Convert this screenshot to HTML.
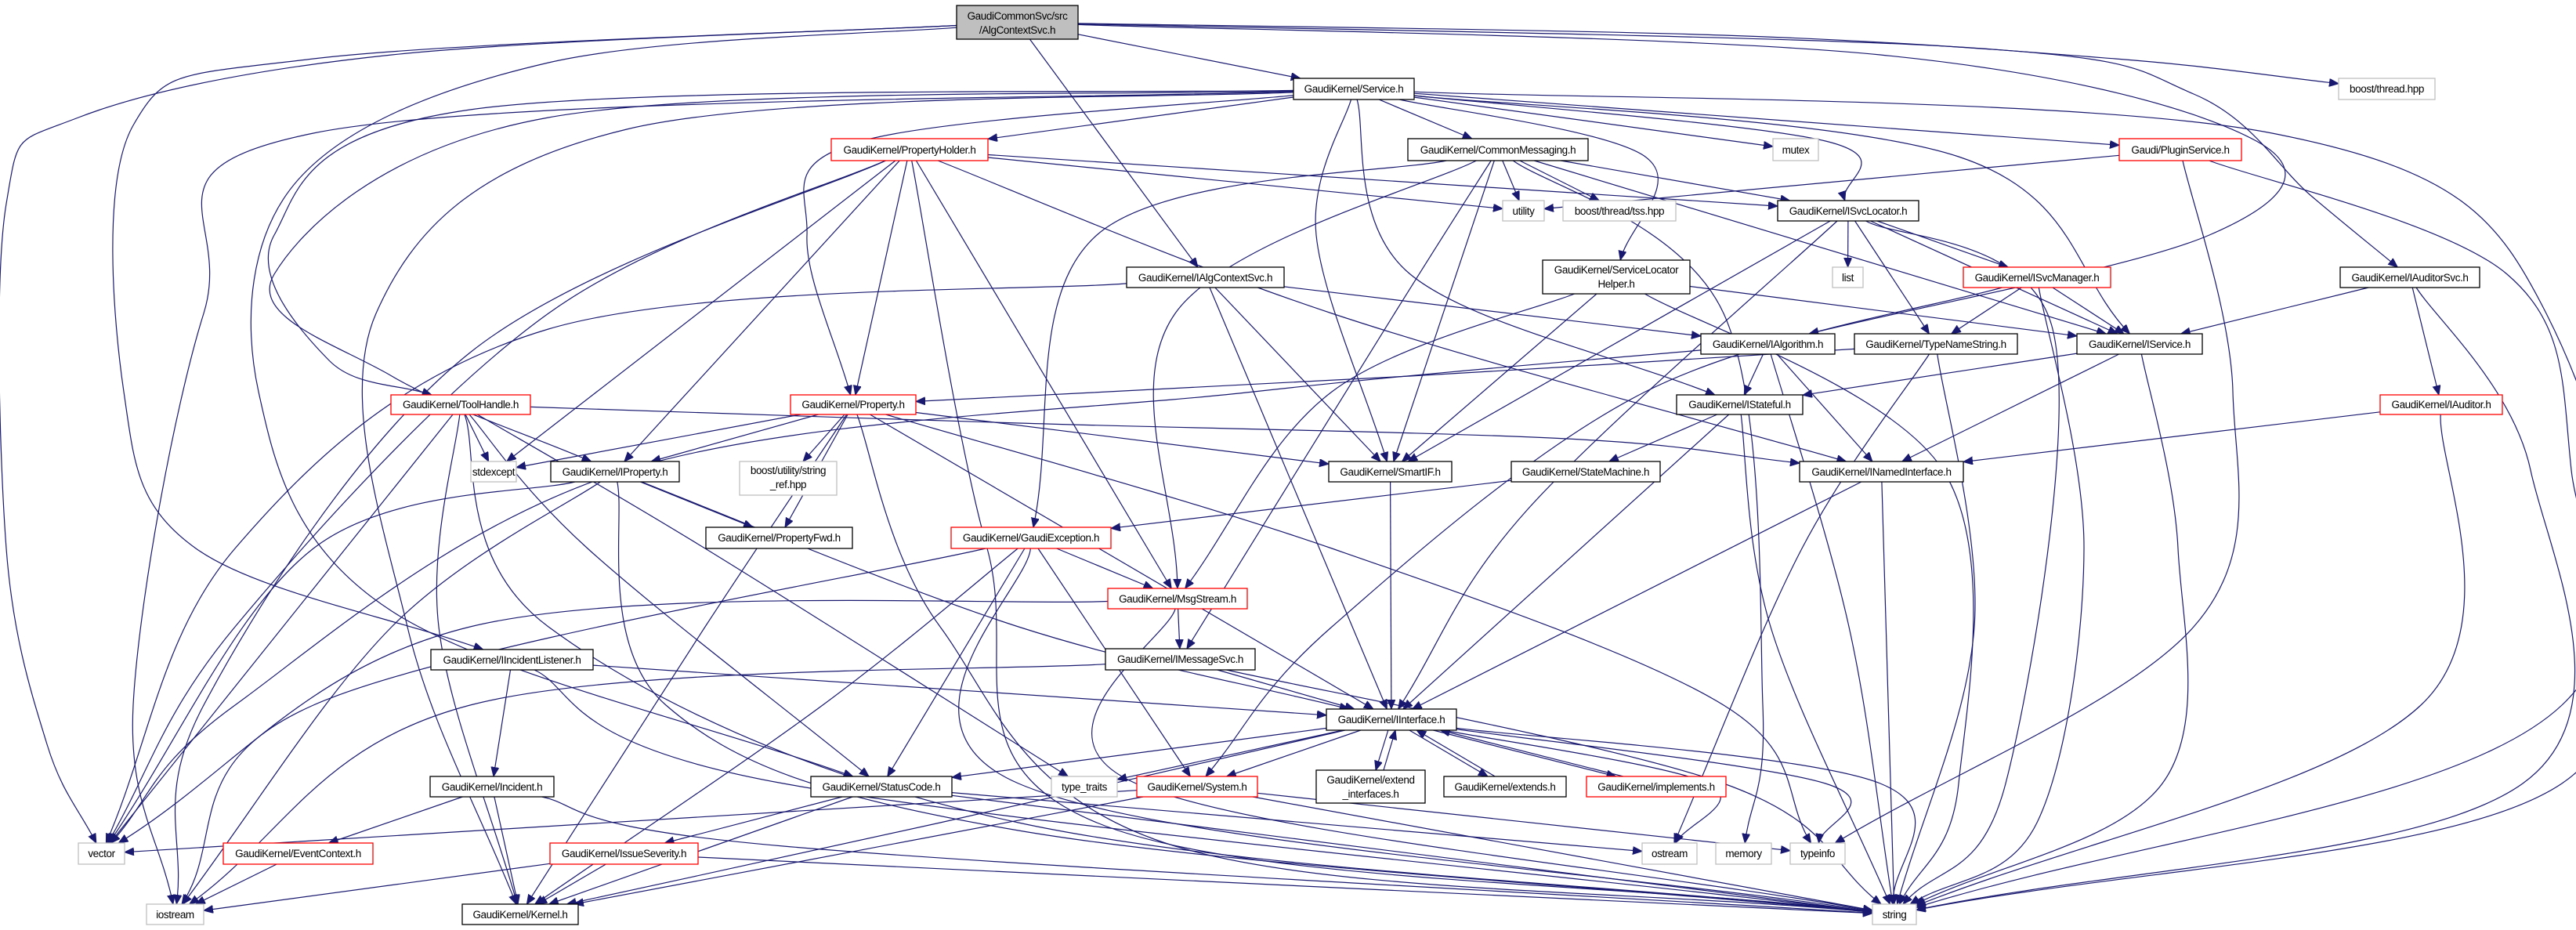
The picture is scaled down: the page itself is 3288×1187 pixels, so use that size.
<!DOCTYPE html>
<html><head><meta charset="utf-8">
<style>
html,body{margin:0;padding:0;background:#fff;}
svg{display:block;}
text{font-family:"Liberation Sans",Arial,sans-serif;font-size:13.5px;letter-spacing:-0.4px;fill:#000;text-anchor:middle;}
.n rect{fill:#fff;stroke:#000;stroke-width:1.3;}
.g rect{stroke:#bfbfbf;}
.r rect{stroke:#ff0000;}
#edges path{fill:none;stroke:#191970;stroke-width:1.2;}
</style></head>
<body>
<svg id="s" width="3288" height="1187" viewBox="0 0 3288 1187" xmlns="http://www.w3.org/2000/svg">
<defs><marker id="ah" markerUnits="userSpaceOnUse" markerWidth="14" markerHeight="12" refX="12" refY="5" orient="auto"><path d="M0,0 L12,5 L0,10 z" fill="#191970" stroke="#191970"/></marker></defs>
<g id="edges"></g>
<g id="nodes">
<g class="n" id="root"><rect x="1221" y="7" width="155" height="43" style="fill:#bfbfbf"/><text x="1298.5" y="25">GaudiCommonSvc/src</text><text x="1298.5" y="43">/AlgContextSvc.h</text></g>
<g class="n" id="svc"><rect x="1651" y="100" width="154" height="27"/><text x="1728" y="118">GaudiKernel/Service.h</text></g>
<g class="n r" id="ph"><rect x="1061" y="177" width="200" height="28"/><text x="1161" y="196">GaudiKernel/PropertyHolder.h</text></g>
<g class="n" id="cm"><rect x="1797" y="177" width="230" height="28"/><text x="1912" y="196">GaudiKernel/CommonMessaging.h</text></g>
<g class="n g" id="mutex"><rect x="2263" y="177" width="58" height="28"/><text x="2292" y="196">mutex</text></g>
<g class="n r" id="plug"><rect x="2705" y="177" width="156" height="28"/><text x="2783" y="196">Gaudi/PluginService.h</text></g>
<g class="n g" id="bth"><rect x="2985" y="100" width="123" height="27"/><text x="3046.5" y="118">boost/thread.hpp</text></g>
<g class="n g" id="util"><rect x="1918" y="256" width="53" height="26"/><text x="1944.5" y="274">utility</text></g>
<g class="n g" id="tss"><rect x="1995" y="256" width="144" height="26"/><text x="2067" y="274">boost/thread/tss.hpp</text></g>
<g class="n" id="isl"><rect x="2269" y="256" width="180" height="26"/><text x="2359" y="274">GaudiKernel/ISvcLocator.h</text></g>
<g class="n" id="iacs"><rect x="1438" y="341" width="201" height="26"/><text x="1538.5" y="359">GaudiKernel/IAlgContextSvc.h</text></g>
<g class="n" id="slh"><rect x="1969" y="332" width="188" height="43"/><text x="2063" y="349">GaudiKernel/ServiceLocator</text><text x="2063" y="367">Helper.h</text></g>
<g class="n g" id="list"><rect x="2339" y="341" width="39" height="26"/><text x="2358.5" y="359">list</text></g>
<g class="n r" id="ism"><rect x="2506" y="341" width="188" height="26"/><text x="2600" y="359">GaudiKernel/ISvcManager.h</text></g>
<g class="n" id="ias"><rect x="2987" y="341" width="178" height="26"/><text x="3076" y="359">GaudiKernel/IAuditorSvc.h</text></g>
<g class="n" id="ialg"><rect x="2171" y="426" width="171" height="26"/><text x="2256.5" y="444">GaudiKernel/IAlgorithm.h</text></g>
<g class="n" id="tns"><rect x="2367" y="426" width="208" height="26"/><text x="2471" y="444">GaudiKernel/TypeNameString.h</text></g>
<g class="n" id="isv"><rect x="2651" y="426" width="160" height="26"/><text x="2731" y="444">GaudiKernel/IService.h</text></g>
<g class="n r" id="th"><rect x="499" y="504" width="178" height="25"/><text x="588" y="521">GaudiKernel/ToolHandle.h</text></g>
<g class="n r" id="prop"><rect x="1009" y="504" width="160" height="25"/><text x="1089" y="521">GaudiKernel/Property.h</text></g>
<g class="n" id="ist"><rect x="2140" y="504" width="161" height="25"/><text x="2220.5" y="521">GaudiKernel/IStateful.h</text></g>
<g class="n r" id="iaud"><rect x="3038" y="504" width="156" height="25"/><text x="3116" y="521">GaudiKernel/IAuditor.h</text></g>
<g class="n g" id="stdx"><rect x="601" y="589" width="58" height="26"/><text x="630" y="607">stdexcept</text></g>
<g class="n" id="iprop"><rect x="703" y="589" width="164" height="26"/><text x="785" y="607">GaudiKernel/IProperty.h</text></g>
<g class="n g" id="bus"><rect x="944" y="589" width="124" height="43"/><text x="1006" y="605">boost/utility/string</text><text x="1006" y="623">_ref.hpp</text></g>
<g class="n" id="sif"><rect x="1696" y="589" width="157" height="26"/><text x="1774.5" y="607">GaudiKernel/SmartIF.h</text></g>
<g class="n" id="sm"><rect x="1929" y="589" width="190" height="26"/><text x="2024" y="607">GaudiKernel/StateMachine.h</text></g>
<g class="n" id="inam"><rect x="2297" y="589" width="209" height="26"/><text x="2401.5" y="607">GaudiKernel/INamedInterface.h</text></g>
<g class="n" id="pfwd"><rect x="901" y="673" width="187" height="27"/><text x="994.5" y="691">GaudiKernel/PropertyFwd.h</text></g>
<g class="n r" id="gex"><rect x="1214" y="673" width="204" height="27"/><text x="1316" y="691">GaudiKernel/GaudiException.h</text></g>
<g class="n r" id="msg"><rect x="1414" y="751" width="178" height="26"/><text x="1503" y="769">GaudiKernel/MsgStream.h</text></g>
<g class="n" id="il"><rect x="550" y="829" width="207" height="26"/><text x="653.5" y="847">GaudiKernel/IIncidentListener.h</text></g>
<g class="n" id="ims"><rect x="1411" y="828" width="191" height="27"/><text x="1506.5" y="846">GaudiKernel/IMessageSvc.h</text></g>
<g class="n" id="iint"><rect x="1693" y="905" width="166" height="27"/><text x="1776" y="923">GaudiKernel/IInterface.h</text></g>
<g class="n" id="inc"><rect x="549" y="991" width="158" height="26"/><text x="628" y="1009">GaudiKernel/Incident.h</text></g>
<g class="n" id="sc"><rect x="1035" y="991" width="180" height="26"/><text x="1125" y="1009">GaudiKernel/StatusCode.h</text></g>
<g class="n g" id="tt"><rect x="1342" y="991" width="84" height="26"/><text x="1384" y="1009">type_traits</text></g>
<g class="n r" id="sys"><rect x="1451" y="991" width="154" height="26"/><text x="1528" y="1009">GaudiKernel/System.h</text></g>
<g class="n" id="ext"><rect x="1680" y="983" width="139" height="42"/><text x="1749.5" y="1000">GaudiKernel/extend</text><text x="1749.5" y="1018">_interfaces.h</text></g>
<g class="n" id="exts"><rect x="1843" y="991" width="156" height="26"/><text x="1921" y="1009">GaudiKernel/extends.h</text></g>
<g class="n r" id="impl"><rect x="2025" y="991" width="178" height="26"/><text x="2114" y="1009">GaudiKernel/implements.h</text></g>
<g class="n g" id="vec"><rect x="100" y="1076" width="59" height="27"/><text x="129.5" y="1094">vector</text></g>
<g class="n r" id="ec"><rect x="285" y="1076" width="191" height="27"/><text x="380.5" y="1094">GaudiKernel/EventContext.h</text></g>
<g class="n r" id="isev"><rect x="702" y="1076" width="189" height="27"/><text x="796.5" y="1094">GaudiKernel/IssueSeverity.h</text></g>
<g class="n g" id="ostr"><rect x="2096" y="1076" width="70" height="27"/><text x="2131" y="1094">ostream</text></g>
<g class="n g" id="mem"><rect x="2190" y="1076" width="71" height="27"/><text x="2225.5" y="1094">memory</text></g>
<g class="n g" id="tinf"><rect x="2285" y="1076" width="70" height="27"/><text x="2320" y="1094">typeinfo</text></g>
<g class="n g" id="ios"><rect x="187" y="1154" width="73" height="26"/><text x="223.5" y="1172">iostream</text></g>
<g class="n" id="ker"><rect x="590" y="1154" width="148" height="26"/><text x="664" y="1172">GaudiKernel/Kernel.h</text></g>
<g class="n g" id="str"><rect x="2390" y="1154" width="56" height="26"/><text x="2418" y="1172">string</text></g>
</g>
</svg>
<script>
(function(){
function R(id){var r=document.querySelector('#'+id+' rect');var x=+r.getAttribute('x'),y=+r.getAttribute('y'),w=+r.getAttribute('width'),h=+r.getAttribute('height');return {x:x,y:y,w:w,h:h,cx:x+w/2,cy:y+h/2};}
function clip(r,px,py){var dx=px-r.cx,dy=py-r.cy;if(dx===0&&dy===0)return [r.cx,r.cy];var tx=dx?(r.w/2)/Math.abs(dx):1e9,ty=dy?(r.h/2)/Math.abs(dy):1e9;var t=Math.min(tx,ty);return [r.cx+dx*t,r.cy+dy*t];}
var E=[
['root','svc'],['root','iacs'],['root','bth',[[2200,45],[2700,75]]],['root','vec',[[500,70],[100,150],[8,260],[8,700],[60,950]]],
['root','il',[[400,75],[170,160],[158,500],[250,700]]],['root','sc',[[700,80],[380,230],[330,500],[500,780]]],
['root','ialg',[[2400,70],[2880,180],[2820,300]]],['root','ias',[[2500,60],[2800,120],[2950,250]]],
['svc','ph'],['svc','cm'],['svc','mutex'],['svc','plug'],['svc','isl',[[2330,180]]],['svc','isv',[[2500,200]]],['svc','sif',[[1680,300]]],
['svc','ist',[[1800,350]]],['svc','prop',[[1100,180],[1030,300]]],['svc','slh',[[2100,200]]],
['svc','th',[[600,140],[350,300],[420,460]]],['svc','iprop',[[700,150],[350,350],[500,480]]],
['svc','str',[[2900,170],[3250,400],[3270,900]]],['svc','ker',[[800,165],[480,400],[520,800]]],['svc','ios',[[400,170],[260,400],[170,900]]],
['ph','util'],['ph','isl'],['ph','prop'],['ph','iprop'],['ph','stdx'],['ph','msg'],['ph','inam',[[1700,400]]],
['ph','vec',[[700,400],[300,800]]],['ph','ios',[[600,450],[260,900]]],['ph','str',[[1260,700],[1400,1050]]],
['cm','util'],['cm','tss'],['cm','isl'],['cm','isv'],['cm','sif'],['cm','msg',[[1500,400]]],['cm','ims',[[1780,400]]],['cm','gex',[[1400,300]]],['cm','mem',[[2200,400],[2250,900]]],
['iacs','iint'],['iacs','sif'],['iacs','ialg'],['iacs','vec',[[700,420],[300,700]]],
['slh','sif'],['slh','isv'],['slh','str',[[2480,600],[2500,1000]]],['slh','msg',[[1700,500]]],
['isl','list'],['isl','ism'],['isl','tns'],['isl','isv'],['isl','sif'],['isl','iint',[[1950,650]]],['isl','str',[[2620,420],[2560,1000]]],
['ism','tns'],['ism','isv'],['ism','sys',[[2100,500],[1700,800]]],['ism','str',[[2660,700],[2600,1050]]],
['plug','util'],['plug','str',[[3200,350],[3282,600],[3270,1000]]],['plug','tinf',[[2850,500],[2800,800]]],
['ias','isv'],['ias','iaud'],['ias','str',[[3230,600],[3220,1000]]],
['ialg','ist'],['ialg','inam'],['ialg','str',[[2360,800]]],['ialg','vec',[[1600,500],[800,600],[300,900]]],
['tns','str',[[2520,800]]],['tns','ostr',[[2300,700]]],['tns','prop',[[1800,480]]],
['isv','ist'],['isv','inam'],['isv','str',[[2780,700],[2760,1000]]],
['iaud','inam'],['iaud','str',[[3090,900]]],
['ist','sm'],['ist','iint'],['ist','str',[[2260,800]]],
['th','stdx'],['th','inam',[[1300,540],[2000,560]]],['th','vec'],['th','str',[[700,800],[1300,1050]]],['th','tt',[[900,700]]],['th','sc',[[750,700]]],['th','ker',[[560,800]]],
['prop','iprop'],['prop','pfwd'],['prop','stdx'],['prop','bus'],['prop','sif'],['prop','iint'],['prop','str',[[1200,800],[1500,1080]]],['prop','tinf',[[1700,700],[2200,900]]],['prop','ker',[[900,800]]],
['iprop','pfwd'],['iprop','iint',[[1300,800]]],['iprop','vec',[[400,700]]],['iprop','ios',[[500,800]]],['iprop','str',[[850,900],[1300,1060]]],
['sm','gex'],['inam','iint'],['inam','str'],['sif','iint'],
['gex','msg'],['gex','sc'],['gex','sys'],['gex','ker',[[1050,900]]],['gex','str',[[1300,1000]]],['gex','ios',[[400,900]]],
['msg','ims'],['msg','vec',[[600,800]]],['msg','str',[[1450,1000]]],
['ims','iint'],['ims','ios',[[600,900]]],['ims','str',[[2200,1000]]],
['il','inc'],['il','iint'],['il','str',[[1000,1000]]],
['inc','ec'],['inc','ker'],['inc','str',[[1000,1080]]],
['iint','sc'],['iint','tt'],['iint','sys'],['iint','ext'],['iint','exts'],['iint','impl'],['iint','ostr',[[2180,1000]]],['iint','tinf',[[2330,1000]]],['iint','str',[[2400,1000]]],['iint','ker',[[1200,1050]]],
['ext','iint'],['exts','iint'],['impl','iint'],
['sc','isev'],['sc','ker'],['sc','ostr'],['sc','str'],
['sys','ker'],['sys','vec'],['sys','str'],['sys','tinf'],
['ec','ios'],['isev','ios'],['isev','ker'],['isev','str']
];
var g=document.getElementById('edges'),ns='http://www.w3.org/2000/svg',off={};
E.forEach(function(e){
 var S=R(e[0]),T=R(e[1]),w=e[2]||[];
 var key=e[0]+'>'+e[1],rev=e[1]+'>'+e[0];
 var sh=off[rev]?8:0;off[key]=1;
 var f=w.length?w[0]:[T.cx+sh,T.cy],l=w.length?w[w.length-1]:[S.cx+sh,S.cy];
 var p0=clip(S,f[0],f[1]),pn=clip(T,l[0],l[1]);
 if(sh){p0[0]+=sh;pn[0]+=sh;}
 var pts=[p0].concat(w,[pn]);
 var d='M'+pts[0][0].toFixed(1)+','+pts[0][1].toFixed(1);
 if(pts.length===2){d+=' L'+pn[0].toFixed(1)+','+pn[1].toFixed(1);}
 else{for(var i=0;i<pts.length-1;i++){var a=pts[i-1]||pts[i],b=pts[i],c=pts[i+1],dd=pts[i+2]||pts[i+1];
  var c1=[b[0]+(c[0]-a[0])/6,b[1]+(c[1]-a[1])/6],c2=[c[0]-(dd[0]-b[0])/6,c[1]-(dd[1]-b[1])/6];
  if(i===pts.length-2){c2=[c[0]-(c[0]-b[0])/3,c[1]-(c[1]-b[1])/3];}
  d+=' C'+c1[0].toFixed(1)+','+c1[1].toFixed(1)+' '+c2[0].toFixed(1)+','+c2[1].toFixed(1)+' '+c[0].toFixed(1)+','+c[1].toFixed(1);}}
 var p=document.createElementNS(ns,'path');p.setAttribute('d',d);p.setAttribute('marker-end','url(#ah)');g.appendChild(p);
});
})();
</script>
</body></html>
